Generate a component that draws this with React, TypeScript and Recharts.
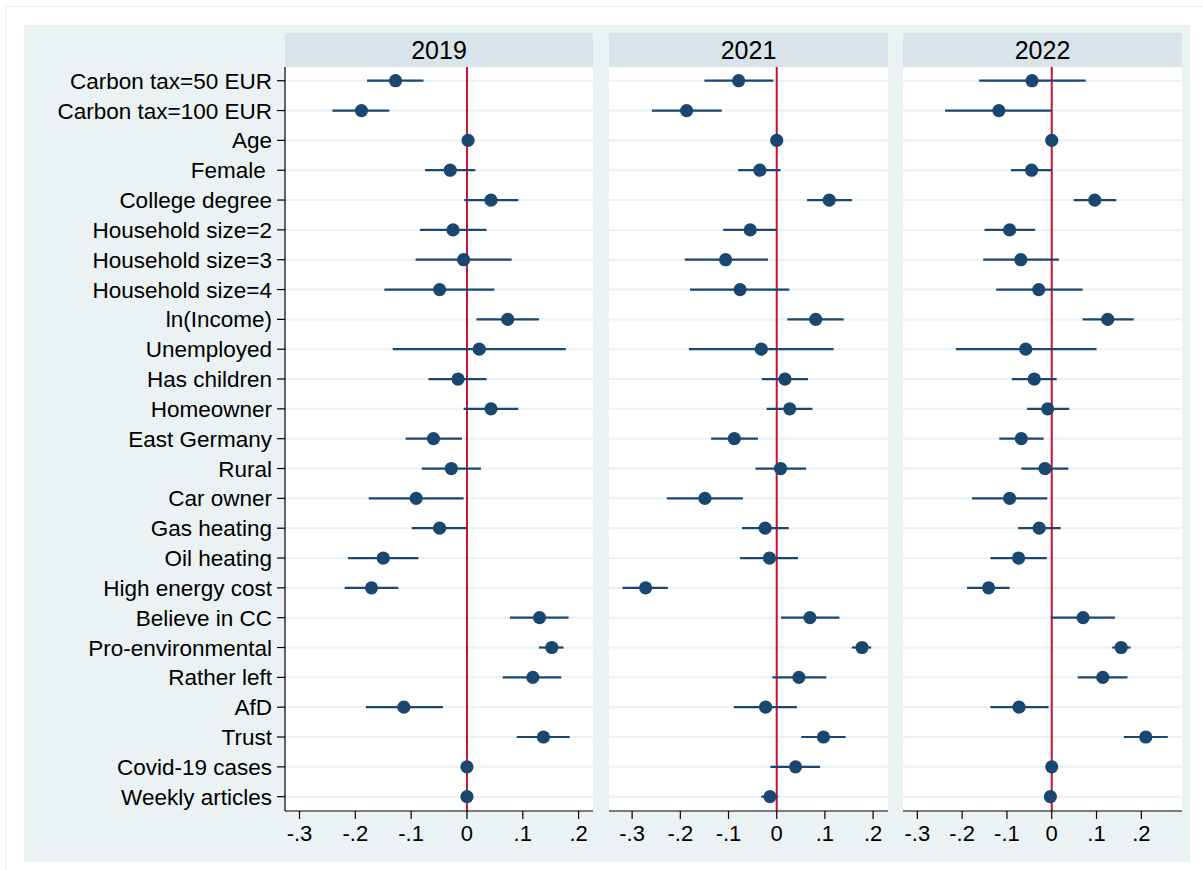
import React from "react";
import {
  ScatterChart,
  Scatter,
  XAxis,
  YAxis,
  ErrorBar,
  ReferenceLine,
  CartesianGrid,
} from "recharts";

const variables = [
  "Carbon tax=50 EUR",
  "Carbon tax=100 EUR",
  "Age",
  "Female ",
  "College degree",
  "Household size=2",
  "Household size=3",
  "Household size=4",
  "ln(Income)",
  "Unemployed",
  "Has children",
  "Homeowner",
  "East Germany",
  "Rural",
  "Car owner",
  "Gas heating",
  "Oil heating",
  "High energy cost",
  "Believe in CC",
  "Pro-environmental",
  "Rather left",
  "AfD",
  "Trust",
  "Covid-19 cases",
  "Weekly articles",
];

const xTicks = [-0.3, -0.2, -0.1, 0, 0.1, 0.2];

const coef2019 = [-0.128, -0.189, 0.002, -0.03, 0.043, -0.025, -0.006, -0.049, 0.073, 0.022, -0.016, 0.043, -0.06, -0.028, -0.091, -0.049, -0.15, -0.171, 0.13, 0.152, 0.118, -0.113, 0.137, 0, 0];
const lo2019 = [-0.179, -0.241, 0.0, -0.075, -0.005, -0.084, -0.092, -0.148, 0.017, -0.133, -0.069, -0.006, -0.11, -0.081, -0.176, -0.099, -0.213, -0.219, 0.077, 0.129, 0.064, -0.181, 0.089, -0.002, -0.002];
const hi2019 = [-0.078, -0.139, 0.004, 0.015, 0.092, 0.035, 0.08, 0.049, 0.129, 0.177, 0.035, 0.092, -0.009, 0.025, -0.006, 0.0, -0.087, -0.123, 0.182, 0.173, 0.169, -0.043, 0.184, 0.002, 0.002];

const coef2021 = [-0.079, -0.187, 0, -0.035, 0.109, -0.055, -0.106, -0.076, 0.081, -0.032, 0.017, 0.027, -0.088, 0.008, -0.149, -0.024, -0.015, -0.272, 0.069, 0.177, 0.046, -0.023, 0.097, 0.039, -0.014];
const lo2021 = [-0.15, -0.259, -0.002, -0.08, 0.063, -0.111, -0.191, -0.18, 0.022, -0.182, -0.031, -0.021, -0.136, -0.044, -0.228, -0.072, -0.076, -0.32, 0.009, 0.156, -0.009, -0.089, 0.051, -0.013, -0.032];
const hi2021 = [-0.007, -0.114, 0.002, 0.008, 0.156, -0.001, -0.018, 0.026, 0.139, 0.118, 0.065, 0.074, -0.039, 0.061, -0.07, 0.025, 0.044, -0.226, 0.13, 0.196, 0.103, 0.042, 0.143, 0.09, 0.003];

const coef2022 = [-0.044, -0.118, 0, -0.045, 0.096, -0.094, -0.069, -0.029, 0.125, -0.058, -0.039, -0.009, -0.068, -0.015, -0.094, -0.028, -0.074, -0.141, 0.07, 0.155, 0.114, -0.073, 0.21, 0, -0.003];
const lo2022 = [-0.162, -0.238, -0.002, -0.091, 0.049, -0.15, -0.153, -0.124, 0.069, -0.214, -0.089, -0.055, -0.117, -0.068, -0.178, -0.075, -0.137, -0.189, -0.002, 0.135, 0.058, -0.137, 0.161, -0.002, -0.006];
const hi2022 = [0.076, -0.001, 0.002, 0.0, 0.144, -0.037, 0.016, 0.069, 0.183, 0.1, 0.011, 0.039, -0.018, 0.037, -0.01, 0.02, -0.011, -0.094, 0.141, 0.176, 0.169, -0.007, 0.259, 0.002, 0.0];

const FONT = "'Liberation Sans', Arial, Helvetica, sans-serif";
const NAVY = "#1A476F";
const rows = variables.map((_, i) => i);

function fmt(v: number) {
  if (v === 0) return "0";
  return v.toFixed(1).replace("0.", ".");
}

function YTick(props: any) {
  const { x, y, payload } = props;
  return (
    <text
      x={x}
      y={y}
      dy="0.355em"
      textAnchor="end"
      fontSize={22.5}
      fill="#000"
      fontFamily={FONT}
      style={{ whiteSpace: "pre" }}
    >
      {variables[payload.value]}
    </text>
  );
}

function Dot(props: any) {
  const { cx, cy } = props;
  return <circle cx={cx} cy={cy} r={6.6} fill={NAVY} />;
}

function Panel({
  title,
  coef,
  lo,
  hi,
  domain,
  left,
  width,
  showY,
}: {
  title: string;
  coef: number[];
  lo: number[];
  hi: number[];
  domain: [number, number];
  left: number;
  width: number;
  showY: boolean;
}) {
  const data = coef.map((c, i) => ({
    row: i,
    coef: c,
    err: [c - lo[i], hi[i] - c],
  }));
  const yw = showY ? 285 : 0;
  return (
    <>
      <div
        style={{
          position: "absolute",
          left: left + yw,
          top: 33,
          width: width - yw,
          height: 34,
          background: "#D8E4E9",
          fontFamily: FONT,
          fontSize: 25,
          lineHeight: "34px",
          textAlign: "center",
          color: "#000",
        }}
      >
        {title}
      </div>
      <div style={{ position: "absolute", left, top: 67 }}>
        <ScatterChart
          width={width}
          height={794}
          margin={{ top: 0, right: 0, bottom: 0, left: 0 }}
        >
          <CartesianGrid fill="#fff" horizontal={false} vertical={false} />
          <XAxis
            type="number"
            dataKey="coef"
            domain={domain}
            allowDataOverflow
            ticks={xTicks}
            interval={0}
            tickFormatter={fmt}
            height={50}
            tickSize={8}
            tickMargin={6}
            axisLine={{ stroke: "#000", strokeWidth: 1.2 }}
            tickLine={{ stroke: "#000", strokeWidth: 1.2 }}
            tick={{ fontSize: 22, fill: "#000", fontFamily: FONT }}
          />
          <YAxis
            type="number"
            dataKey="row"
            domain={[-0.46, 24.48]}
            reversed
            allowDataOverflow
            ticks={rows}
            interval={0}
            width={yw}
            hide={!showY}
            tick={<YTick />}
            tickSize={8}
            tickMargin={5}
            axisLine={{ stroke: "#000", strokeWidth: 1.2 }}
            tickLine={{ stroke: "#000", strokeWidth: 1.2 }}
          />
          {rows.map((i) => (
            <ReferenceLine key={i} y={i} stroke="#EAF2F3" strokeWidth={2} />
          ))}
          <ReferenceLine x={0} stroke="#C4122F" strokeWidth={2} />
          <Scatter
            data={data}
            isAnimationActive={false}
            shape={<Dot />}
            fill={NAVY}
          >
            <ErrorBar
              dataKey="err"
              direction="x"
              width={0}
              stroke={NAVY}
              strokeWidth={2.2}
              isAnimationActive={false}
            />
          </Scatter>
        </ScatterChart>
      </div>
    </>
  );
}

export default function App() {
  return (
    <div
      style={{
        position: "absolute",
        left: 0,
        top: 0,
        width: 1203,
        height: 870,
        background: "#fff",
        overflow: "hidden",
      }}
    >
      <div
        style={{
          position: "absolute",
          left: 5,
          top: 6,
          width: 1210,
          height: 880,
          border: "1.5px solid #EAF0F2",
        }}
      />
      <div
        style={{
          position: "absolute",
          left: 24,
          top: 25,
          width: 1166,
          height: 837,
          background: "#EAF2F3",
        }}
      />
      <Panel
        title="2019"
        coef={coef2019}
        lo={lo2019}
        hi={hi2019}
        domain={[-0.326, 0.2258]}
        left={0}
        width={593}
        showY
      />
      <Panel
        title="2021"
        coef={coef2021}
        lo={lo2021}
        hi={hi2021}
        domain={[-0.348, 0.2309]}
        left={609}
        width={279}
        showY={false}
      />
      <Panel
        title="2022"
        coef={coef2022}
        lo={lo2022}
        hi={hi2022}
        domain={[-0.332, 0.2908]}
        left={903}
        width={279}
        showY={false}
      />
    </div>
  );
}
